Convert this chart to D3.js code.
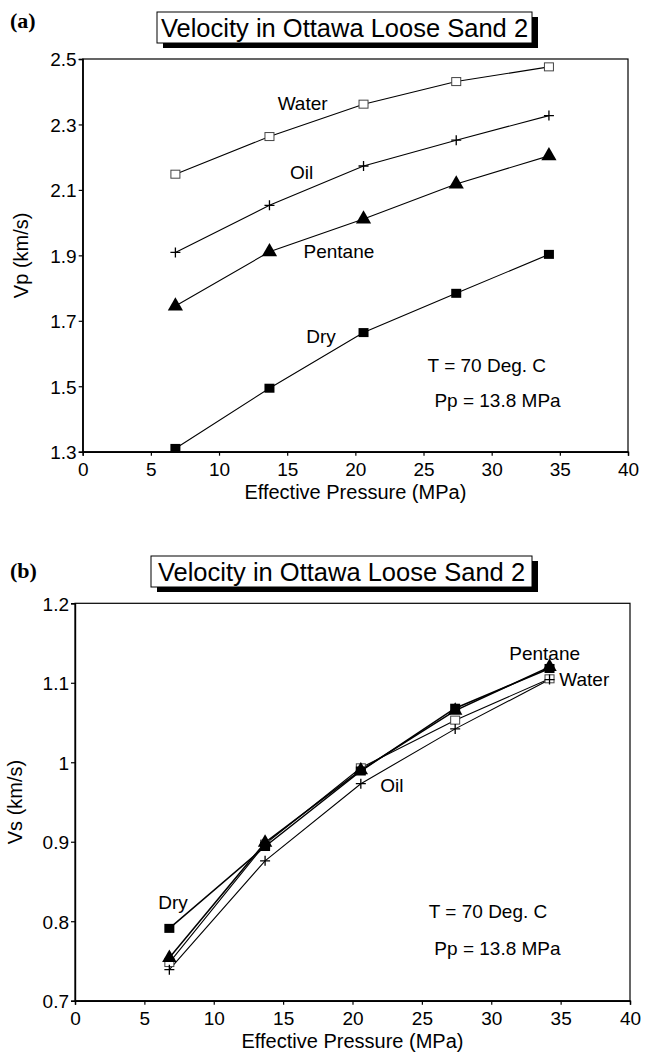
<!DOCTYPE html>
<html><head><meta charset="utf-8">
<script src="https://cdn.jsdelivr.net/npm/d3@7"></script>
<style>
html,body{margin:0;padding:0;background:#fff;}
svg{display:block;font-family:"Liberation Sans",Arial,Helvetica,sans-serif;}
</style></head>
<body>
<svg id="chart" width="647" height="1055"></svg>
<script>
// ---------------- data ----------------
const pressure = [6.8, 13.7, 20.6, 27.4, 34.2];           // Effective Pressure (MPa)
const vpWater   = [2.148, 2.263, 2.362, 2.431, 2.476];
const vpOil     = [1.909, 2.053, 2.173, 2.252, 2.327];
const vpPentane = [1.745, 1.911, 2.011, 2.118, 2.204];
const vpDry     = [1.310, 1.494, 1.664, 1.784, 1.903];
const vsWater   = [0.748, 0.897, 0.993, 1.053, 1.105];
const vsOil     = [0.739, 0.876, 0.973, 1.042, 1.104];
const vsPentane = [0.754, 0.899, 0.990, 1.065, 1.120];
const vsDry     = [0.791, 0.894, 0.989, 1.068, 1.118];
const xTicks  = [0, 5, 10, 15, 20, 25, 30, 35, 40];
const vpTicks = [1.3, 1.5, 1.7, 1.9, 2.1, 2.3, 2.5];
const vpTickLabels = ["1.3", "1.5", "1.7", "1.9", "2.1", "2.3", "2.5"];
const vsTicks = [0.7, 0.8, 0.9, 1.0, 1.1, 1.2];
const vsTickLabels = ["0.7", "0.8", "0.9", "1", "1.1", "1.2"];
const titleText = "Velocity in Ottawa Loose Sand 2";
const xLabel = "Effective Pressure (MPa)";
const noteT = "T = 70 Deg. C";
const notePp = "Pp = 13.8 MPa";
// series label anchors in data units [x, y]
const vpLabels = [["Water", 14.3, 2.344], ["Oil", 15.2, 2.133], ["Pentane", 16.2, 1.892], ["Dry", 16.4, 1.632]];
const vpNotes  = [[noteT, 25.3, 1.544], [notePp, 25.8, 1.438]];
const vsLabels = [["Pentane", 31.3, 1.129], ["Water", 34.9, 1.096], ["Oil", 22.0, 0.962], ["Dry", 6.0, 0.815]];
const vsNotes  = [[noteT, 25.5, 0.804], [notePp, 25.9, 0.758]];

const svg = d3.select("#chart");

function panel(cfg) {
  const g = svg.append("g");
  const x = d3.scaleLinear().domain([0, 40]).range([cfg.left, cfg.right]);
  const y = d3.scaleLinear().domain(cfg.yDomain).range([cfg.bottom, cfg.top]);

  // panel letter
  g.append("text").attr("x", cfg.letterX).attr("y", cfg.letterY)
    .attr("font-family", "'Liberation Serif','Times New Roman',serif")
    .attr("font-weight", "bold").attr("font-size", 22).text(cfg.letter);

  // title box with shadow
  const tb = cfg.titleBox;
  g.append("rect").attr("x", tb.x + 6).attr("y", tb.y + 5).attr("width", tb.w).attr("height", tb.h).attr("fill", "#000");
  g.append("rect").attr("x", tb.x).attr("y", tb.y).attr("width", tb.w).attr("height", tb.h)
    .attr("fill", "#fff").attr("stroke", "#000").attr("stroke-width", 1);
  g.append("text").attr("x", tb.x + tb.w / 2).attr("y", tb.y + tb.h - 6).attr("text-anchor", "middle")
    .attr("font-size", 25.5).text(titleText);

  // frame
  g.append("rect").attr("x", cfg.left).attr("y", cfg.top)
    .attr("width", cfg.right - cfg.left).attr("height", cfg.bottom - cfg.top)
    .attr("fill", "none").attr("stroke", "#000").attr("stroke-width", 1.2);

  // axes
  const xa = g.append("g").attr("transform", `translate(0,${cfg.bottom})`)
    .call(d3.axisBottom(x).tickValues(xTicks).tickFormat(d3.format("d")).tickSize(4).tickPadding(4));
  const ya = g.append("g").attr("transform", `translate(${cfg.left},0)`)
    .call(d3.axisLeft(y).tickValues(cfg.yTicks).tickFormat((d, i) => cfg.yTickLabels[i]).tickSize(4).tickPadding(2));
  [xa, ya].forEach(a => {
    a.select(".domain").attr("stroke", "#000").attr("stroke-width", 1.4);
    a.selectAll(".tick line").attr("stroke", "#000").attr("stroke-width", 1.2);
    a.selectAll(".tick text").attr("fill", "#000").attr("font-size", 19)
      .attr("font-family", "'Liberation Sans',Arial,sans-serif");
  });
  xa.selectAll(".tick text").attr("dy", "0.85em");
  ya.selectAll(".tick text").attr("dy", "0.36em");

  // axis labels
  g.append("text").attr("x", (cfg.left + cfg.right) / 2).attr("y", cfg.bottom + 47)
    .attr("text-anchor", "middle").attr("font-size", 20).text(xLabel);
  g.append("text").attr("transform", `translate(${cfg.yLabelX},${(cfg.top + cfg.bottom) / 2}) rotate(-90)`)
    .attr("text-anchor", "middle").attr("font-size", 20).text(cfg.yLabel);

  // series
  const line = d3.line().x((d, i) => x(pressure[i])).y(d => y(d));
  cfg.series.forEach(s => {
    g.append("path").datum(s.values).attr("d", line)
      .attr("fill", "none").attr("stroke", "#000").attr("stroke-width", s.lw || 1.1);
  });
  cfg.series.forEach(s => {
    const pts = g.append("g").selectAll("g").data(s.values).join("g")
      .attr("transform", (d, i) => `translate(${x(pressure[i])},${y(d)})`);
    if (s.marker === "openSquare") {
      pts.append("rect").attr("x", -4.5).attr("y", -4).attr("width", 9).attr("height", 8)
        .attr("fill", "#fff").attr("stroke", "#444").attr("stroke-width", 1);
    } else if (s.marker === "plus") {
      pts.append("path").attr("d", "M-5,0H5M0,-5V5").attr("stroke", "#000").attr("stroke-width", 1.3);
    } else if (s.marker === "triangle") {
      pts.append("path").attr("d", d3.symbol().type(d3.symbolTriangle).size(s.size || 95)).attr("fill", "#000");
    } else if (s.marker === "square") {
      pts.append("rect").attr("x", -5).attr("y", -4.5).attr("width", 10).attr("height", 9).attr("fill", "#000");
    }
  });

  // labels
  cfg.labels.concat(cfg.notes).forEach(l => {
    g.append("text").attr("x", x(l[1])).attr("y", y(l[2])).attr("font-size", 19).text(l[0]);
  });
}

panel({
  letter: "(a)", letterX: 10, letterY: 28,
  titleBox: {x: 157, y: 12, w: 375, h: 31},
  left: 82.7, right: 628, top: 59, bottom: 451.7,
  yDomain: [1.3, 2.5], yTicks: vpTicks, yTickLabels: vpTickLabels,
  yLabel: "Vp (km/s)", yLabelX: 28,
  series: [
    {values: vpWater, marker: "openSquare"},
    {values: vpOil, marker: "plus"},
    {values: vpPentane, marker: "triangle", size: 100},
    {values: vpDry, marker: "square"}
  ],
  labels: vpLabels, notes: vpNotes
});

panel({
  letter: "(b)", letterX: 10, letterY: 578,
  titleBox: {x: 151, y: 556, w: 381, h: 31},
  left: 75, right: 630, top: 603.3, bottom: 1000.7,
  yDomain: [0.7, 1.2], yTicks: vsTicks, yTickLabels: vsTickLabels,
  yLabel: "Vs (km/s)", yLabelX: 22,
  series: [
    {values: vsWater, marker: "openSquare"},
    {values: vsOil, marker: "plus"},
    {values: vsDry, marker: "square", lw: 1.5},
    {values: vsPentane, marker: "triangle", size: 90, lw: 1.5}
  ],
  labels: vsLabels, notes: vsNotes
});
</script>
</body></html>
